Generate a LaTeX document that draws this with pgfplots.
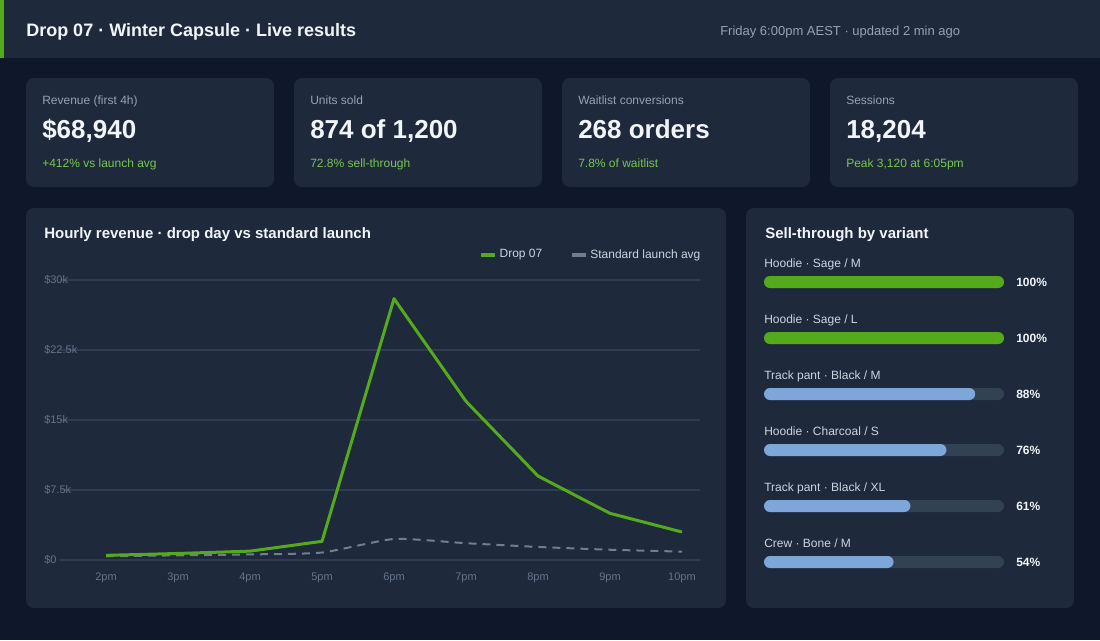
\documentclass[border=0pt]{standalone}
\usepackage{fontspec}
\setmainfont{Liberation Sans}
\usepackage{pgfplots}
\pgfplotsset{compat=1.18}
\definecolor{bg}{RGB}{15,23,42}
\definecolor{card}{RGB}{30,41,59}
\definecolor{accent}{RGB}{84,170,26}
\definecolor{dropc}{RGB}{84,170,26}
\definecolor{stdc}{RGB}{112,126,148}
\definecolor{goodtxt}{RGB}{118,200,78}
\definecolor{muted}{RGB}{148,163,184}
\definecolor{tickc}{RGB}{100,116,139}
\definecolor{gridc}{RGB}{47,59,79}
\definecolor{whitec}{RGB}{241,245,249}
\definecolor{legc}{RGB}{203,213,225}
\definecolor{barblue}{RGB}{125,166,217}
\definecolor{trackc}{RGB}{51,65,85}
\newcommand{\fpx}[1]{\fontsize{\dimexpr #1pt*3/4\relax}{\dimexpr #1pt*9/10\relax}\selectfont}
\begin{document}
\begin{tikzpicture}[x=0.75pt,y=-0.75pt]
\useasboundingbox (0,0) rectangle (1100,640);
\fill[bg] (0,0) rectangle (1100,640);
% header
\fill[card] (0,0) rectangle (1100,58);
\fill[accent] (0,0) rectangle (4,58);
\node[anchor=base west, inner sep=0pt, text=whitec, font=\bfseries\fpx{18}] at (26,36.5) {Drop 07 · Winter Capsule · Live results};
\node[anchor=base west, inner sep=0pt, text=muted, font=\fpx{13}] at (720,35.5) {Friday 6:00pm AEST · updated 2 min ago};
% KPI cards
\foreach \x in {26,294,562,830} {\fill[card, rounded corners=6pt] (\x,78) rectangle ++(248,109);}
\node[anchor=base west, inner sep=0pt, text=muted, font=\fpx{12}] at (42,104) {Revenue (first 4h)};
\node[anchor=base west, inner sep=0pt, text=whitec, font=\bfseries\fpx{26}] at (42,138) {\$68,940};
\node[anchor=base west, inner sep=0pt, text=goodtxt, font=\fpx{12}] at (42,167.5) {+412\% vs launch avg};
\node[anchor=base west, inner sep=0pt, text=muted, font=\fpx{12}] at (310,104) {Units sold};
\node[anchor=base west, inner sep=0pt, text=whitec, font=\bfseries\fpx{26}] at (310,138) {874 of 1,200};
\node[anchor=base west, inner sep=0pt, text=goodtxt, font=\fpx{12}] at (310,167.5) {72.8\% sell-through};
\node[anchor=base west, inner sep=0pt, text=muted, font=\fpx{12}] at (578,104) {Waitlist conversions};
\node[anchor=base west, inner sep=0pt, text=whitec, font=\bfseries\fpx{26}] at (578,138) {268 orders};
\node[anchor=base west, inner sep=0pt, text=goodtxt, font=\fpx{12}] at (578,167.5) {7.8\% of waitlist};
\node[anchor=base west, inner sep=0pt, text=muted, font=\fpx{12}] at (846,104) {Sessions};
\node[anchor=base west, inner sep=0pt, text=whitec, font=\bfseries\fpx{26}] at (846,138) {18,204};
\node[anchor=base west, inner sep=0pt, text=goodtxt, font=\fpx{12}] at (846,167.5) {Peak 3,120 at 6:05pm};
% panels
\fill[card, rounded corners=6pt] (26,208) rectangle (726,608);
\fill[card, rounded corners=6pt] (746,208) rectangle (1074,608);
\node[anchor=base west, inner sep=0pt, text=whitec, font=\bfseries\fpx{15}] at (44,238.5) {Hourly revenue · drop day vs standard launch};
\node[anchor=base west, inner sep=0pt, text=whitec, font=\bfseries\fpx{15}] at (765,238.5) {Sell-through by variant};

% line chart
\begin{axis}[at={(45pt,-420pt)}, anchor=south west, width=480pt, height=210pt, scale only axis,
  xmin=-0.639, xmax=8.25, ymin=0, ymax=30000, clip=false,
  axis line style={draw=none}, ymajorgrids, grid style={gridc, line width=1.1pt},
  major tick length=0pt, scaled y ticks=false,
  xtick={0,1,2,3,4,5,6,7,8}, xticklabels={2pm,3pm,4pm,5pm,6pm,7pm,8pm,9pm,10pm},
  ytick={0,7500,15000,22500,30000}, yticklabels={\$0,\$7.5k,\$15k,\$22.5k,\$30k},
  xticklabel style={anchor=base, yshift=-15pt, inner sep=0pt, font=\fpx{11}, text=tickc},
  yticklabel style={anchor=base west, xshift=-12pt, yshift=-2.9pt, inner sep=0pt, font=\fpx{11}, text=tickc},
  legend style={at={(1,1)}, anchor=east, xshift=2.5pt, yshift=19pt, draw=none, fill=none, inner sep=0pt,
    font=\fpx{12}, text=legc, legend columns=2,
    /tikz/every even column/.append style={column sep=18.5pt}},
  legend cell align=left,
  legend image code/.code={\draw[solid, line width=3pt] (0pt,0pt) -- (10.5pt,0pt);}
]
\addplot[stdc, line width=1.5pt, dash pattern=on 6pt off 4.5pt, smooth, tension=0.35, forget plot] coordinates {
(0,400) (1,500) (2,600) (3,800) (4,2250) (5,1800) (6,1400) (7,1100) (8,900)};
\addplot[dropc, line width=2.25pt, line join=round, forget plot] coordinates {
(0,500) (1,700) (2,950) (3,2000) (4,28000) (5,17000) (6,9000) (7,5000) (8,3000)};
\addlegendimage{dropc}\addlegendentry{Drop 07}
\addlegendimage{stdc}\addlegendentry{Standard launch avg}
\end{axis}

% sell-through bars
\begin{axis}[at={(573pt,-190.5pt)}, anchor=north west, width=180pt, height=252pt, scale only axis,
  hide axis, xmin=0, xmax=100, ymin=-0.5, ymax=5.5, y dir=reverse, clip=false,
  xbar, bar width=9pt, bar shift=0pt]
\addplot[fill=trackc, draw=none, rounded corners=4.5pt] coordinates {(100,0) (100,1) (100,2) (100,3) (100,4) (100,5)};
\addplot[fill=dropc, draw=none, rounded corners=4.5pt] coordinates {(100,0) (100,1)};
\addplot[fill=barblue, draw=none, rounded corners=4.5pt] coordinates {(88,2) (76,3) (61,4) (54,5)};
\node[anchor=base west, inner sep=0pt, text=legc, font=\fpx{12}, yshift=11pt] at (axis cs:0,0) {Hoodie · Sage / M};
\node[anchor=base west, inner sep=0pt, text=legc, font=\fpx{12}, yshift=11pt] at (axis cs:0,1) {Hoodie · Sage / L};
\node[anchor=base west, inner sep=0pt, text=legc, font=\fpx{12}, yshift=11pt] at (axis cs:0,2) {Track pant · Black / M};
\node[anchor=base west, inner sep=0pt, text=legc, font=\fpx{12}, yshift=11pt] at (axis cs:0,3) {Hoodie · Charcoal / S};
\node[anchor=base west, inner sep=0pt, text=legc, font=\fpx{12}, yshift=11pt] at (axis cs:0,4) {Track pant · Black / XL};
\node[anchor=base west, inner sep=0pt, text=legc, font=\fpx{12}, yshift=11pt] at (axis cs:0,5) {Crew · Bone / M};
\node[anchor=base west, inner sep=0pt, text=whitec, font=\bfseries\fpx{12}, yshift=-3.2pt] at (axis cs:105,0) {100\%};
\node[anchor=base west, inner sep=0pt, text=whitec, font=\bfseries\fpx{12}, yshift=-3.2pt] at (axis cs:105,1) {100\%};
\node[anchor=base west, inner sep=0pt, text=whitec, font=\bfseries\fpx{12}, yshift=-3.2pt] at (axis cs:105,2) {88\%};
\node[anchor=base west, inner sep=0pt, text=whitec, font=\bfseries\fpx{12}, yshift=-3.2pt] at (axis cs:105,3) {76\%};
\node[anchor=base west, inner sep=0pt, text=whitec, font=\bfseries\fpx{12}, yshift=-3.2pt] at (axis cs:105,4) {61\%};
\node[anchor=base west, inner sep=0pt, text=whitec, font=\bfseries\fpx{12}, yshift=-3.2pt] at (axis cs:105,5) {54\%};
\end{axis}
\end{tikzpicture}
\end{document}
